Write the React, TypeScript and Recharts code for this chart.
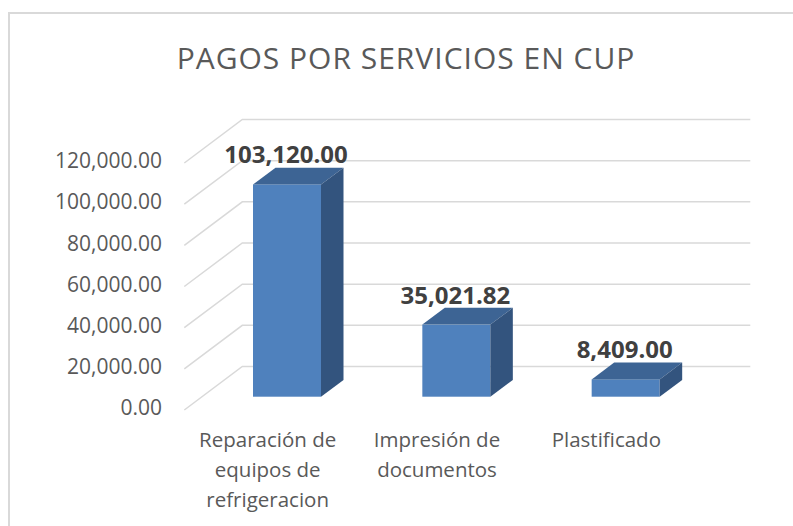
import React from "react";
import { BarChart, Bar, XAxis, YAxis, CartesianGrid, LabelList } from "recharts";

const title = "PAGOS POR SERVICIOS EN CUP";
const categories = [
  "Reparación de\nequipos de\nrefrigeracion",
  "Impresión de\ndocumentos",
  "Plastificado",
];
const values = [103120.0, 35021.82, 8409.0];
const yTicks = [0, 20000, 40000, 60000, 80000, 100000, 120000];

const data = categories.map((c, i) => ({ name: c, value: values[i] }));

const FONT = "'Open Sans', 'DejaVu Sans', sans-serif";
const TEXT = "#595959";
const GRID = "#d9d9d9";

// perspective offsets
const FRONT_DX = -17.7;
const FRONT_DY = 13.3;
const BACK_DX = 40.3;
const BACK_DY = -30.2;
const BAR_DX = 22.5;
const BAR_DY = 16.8;

const fmt = (n: number) =>
  n.toLocaleString("en-US", { minimumFractionDigits: 2, maximumFractionDigits: 2 });

const GridLine = (props: any) => {
  const { x1, x2, y1 } = props;
  const d = `M${x1 + FRONT_DX},${y1 + FRONT_DY} L${x1 + BACK_DX},${y1 + BACK_DY} L${x2 + BACK_DX},${y1 + BACK_DY}`;
  return <path key={props.key ?? `g-${y1}`} d={d} fill="none" stroke={GRID} strokeWidth={1.5} />;
};

const Bar3D = (props: any) => {
  const { x, y, width, height } = props;
  if (width == null || height == null) return null;
  const front = "#4f81bd";
  const top = "#3d6494";
  const side = "#33547e";
  const topPts = `${x},${y} ${x + BAR_DX},${y - BAR_DY} ${x + width + BAR_DX},${y - BAR_DY} ${x + width},${y}`;
  const sidePts = `${x + width},${y} ${x + width + BAR_DX},${y - BAR_DY} ${x + width + BAR_DX},${y + height - BAR_DY} ${x + width},${y + height}`;
  return (
    <g>
      <rect x={x} y={y} width={width} height={height} fill={front} />
      <polygon points={topPts} fill={top} />
      <polygon points={sidePts} fill={side} />
    </g>
  );
};

const YTick = (props: any) => {
  const { x, y, payload } = props;
  return (
    <text
      x={x - 40}
      y={y + FRONT_DY + 5.3}
      textAnchor="end"
      fill={TEXT}
      fontFamily={FONT}
      fontSize={21}
    >
      {fmt(payload.value)}
    </text>
  );
};

const XTick = (props: any) => {
  const { x, y, payload } = props;
  const lines = String(payload.value).split("\n");
  return (
    <text
      x={x - 19}
      y={y + 50.6}
      textAnchor="middle"
      fill={TEXT}
      fontFamily={FONT}
      fontSize={20.5}
    >
      {lines.map((l, i) => (
        <tspan key={i} x={x - 19} dy={i === 0 ? 0 : 29.8}>
          {l}
        </tspan>
      ))}
    </text>
  );
};

const DataLabel = (props: any) => {
  const { x, y, width, value } = props;
  return (
    <text
      x={x + width / 2 - 1}
      y={y - 21}
      textAnchor="middle"
      fill="#404040"
      fontFamily={FONT}
      fontWeight="bold"
      fontSize={24}
    >
      {fmt(Number(value))}
    </text>
  );
};

export default function App() {
  return (
    <div
      style={{
        position: "absolute",
        left: 0,
        top: 0,
        width: 793,
        height: 526,
        overflow: "hidden",
        background: "#ffffff",
      }}
    >
      <div
        style={{
          position: "absolute",
          left: 8,
          top: 12,
          width: 820,
          height: 560,
          borderLeft: `2px solid ${GRID}`,
          borderTop: `2px solid ${GRID}`,
        }}
      />
      <svg
        width={793}
        height={100}
        style={{ position: "absolute", left: 0, top: 0 }}
      >
        <text
          x={406}
          y={69.3}
          textAnchor="middle"
          fill={TEXT}
          fontFamily={FONT}
          fontSize={30}
          letterSpacing={1}
        >
          {title}
        </text>
      </svg>
      <div style={{ position: "absolute", left: 0, top: 0 }}>
        <BarChart
          width={793}
          height={526}
          data={data}
          margin={{ top: 149.7, right: 83, bottom: 99.3, left: 0 }}
        >
          <CartesianGrid vertical={false} horizontal={GridLine} />
          <YAxis
            width={202}
            domain={[0, 120000]}
            ticks={yTicks}
            axisLine={false}
            tickLine={false}
            tickSize={0}
            tickMargin={0}
            tick={YTick}
            interval={0}
          />
          <XAxis
            dataKey="name"
            height={30}
            axisLine={false}
            tickLine={false}
            tickSize={0}
            tickMargin={0}
            tick={XTick}
            interval={0}
          />
          <Bar
            dataKey="value"
            barSize={68}
            shape={Bar3D}
            isAnimationActive={false}
          >
            <LabelList dataKey="value" content={DataLabel} />
          </Bar>
        </BarChart>
      </div>
    </div>
  );
}
